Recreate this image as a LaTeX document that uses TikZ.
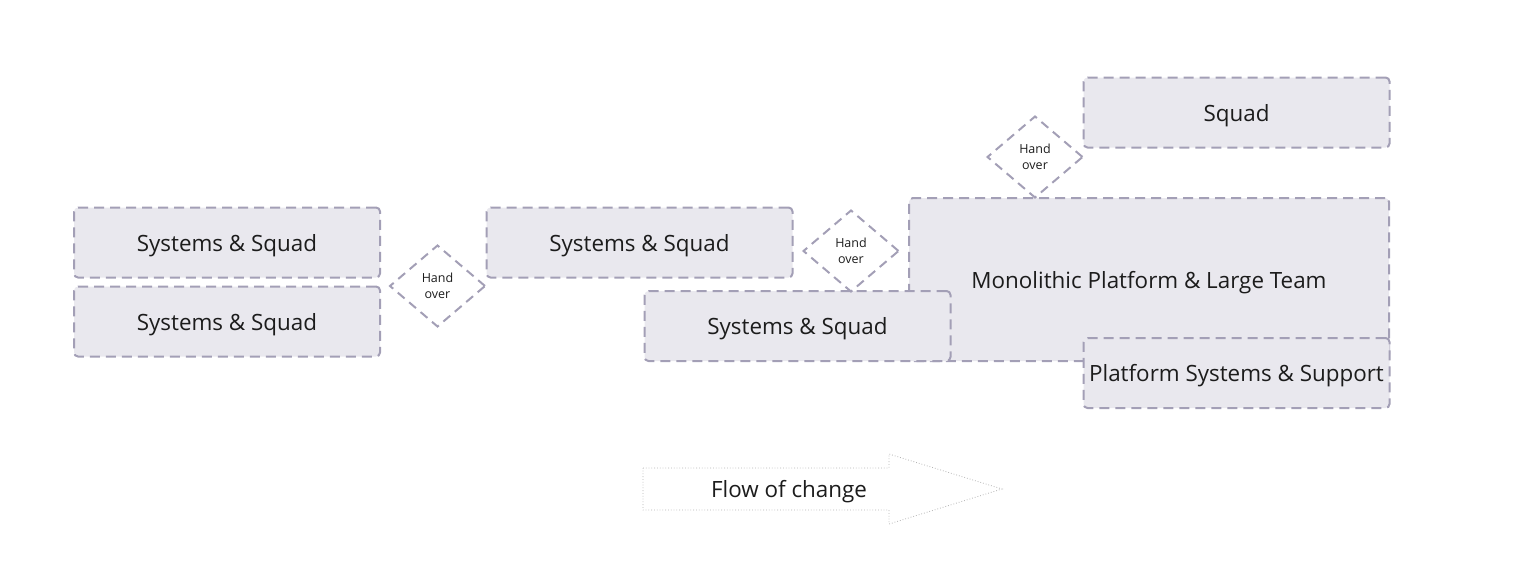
\documentclass[tikz,border=0pt]{standalone}
\usepackage{fontspec}
\setmainfont{Open Sans}
\usepackage{tikz}
\usetikzlibrary{positioning, shapes.geometric, backgrounds}
\usepackage{xcolor}
\definecolor{boxfill}{HTML}{E9E8EE}
\definecolor{boxline}{HTML}{A39FB6}
\definecolor{arrowline}{HTML}{B4B4B4}
\definecolor{txt}{HTML}{1C1C1C}

\begin{document}
\begin{tikzpicture}[x=1pt, y=-1pt,
                  box/.style={draw=boxline, fill=boxfill, rounded corners=4pt,
                              line width=2pt, dash pattern=on 10pt off 6pt,
                              font=\fontsize{22.4}{26}\selectfont, text=txt, inner sep=2pt,
                              text depth=0pt,
                              minimum width=306pt, minimum height=70pt, align=center},
                  team/.style={box, minimum width=306pt},
                  mono/.style={box, minimum width=480pt, minimum height=163pt},
                  hand/.style={diamond, draw=boxline, line width=2pt,
                               dash pattern=on 9pt off 6pt, inner sep=0pt,
                               minimum width=95pt, minimum height=81pt,
                               font=\fontsize{12.5}{16}\selectfont, text=txt, align=center},
                  flow/.style={draw=arrowline, line width=0.8pt, dotted, fill=white},
                  every node/.append style={outer sep=0pt},
            ]
            \useasboundingbox (0,0) rectangle (1530,578);

            % Stage 3: monolithic platform, drawn first so the others sit on top
            \node[mono] (mono) at (1149,279.5) {Monolithic Platform \& Large Team};

            % Stage 2: two squads
            \node[team] (sq3) at (797.5,326) {Systems \& Squad};
            \node[team] (sq2) at (639.5,242.5) {Systems \& Squad};

            % Stage 1: two squads side by side
            \node[team] (sq1a) at (227,242.5) {Systems \& Squad};
            \node[team, below=9pt of sq1a] (sq1b) {Systems \& Squad};

            % Stage 3 split off
            \node[team] (plat) at (1236.5,373) {Platform Systems \& Support};
            \node[team] (squad) at (1236.5,112.5) {Squad};

            % Hand overs
            \node[hand] (ho1) at (437.5,286) {Hand\\over};
            \node[hand] (ho2) at (851,251) {Hand\\over};
            \node[hand] (ho3) at (1035,157) {Hand\\over};

            % Flow of change arrow
            \node[font=\fontsize{22.4}{26}\selectfont, text=txt, text depth=0pt] (flowtxt) at (789,489) {Flow of change};
            \begin{scope}[on background layer]
                  \draw[flow] (643,468) -- (889,468) -- (889,454) -- (1002,489)
                  -- (889,524) -- (889,510) -- (643,510) -- cycle;
            \end{scope}

      \end{tikzpicture}
\end{document}
